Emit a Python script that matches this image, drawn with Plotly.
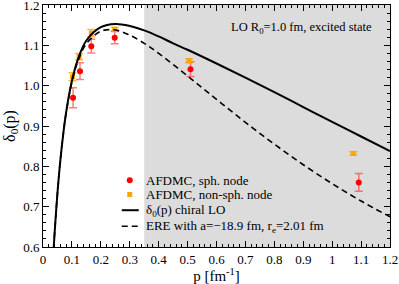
import plotly.graph_objects as go

# AFDMC, spherical node
p_sph = [0.104, 0.128, 0.167, 0.248, 0.510, 1.092]
d_sph = [0.970, 1.036, 1.098, 1.119, 1.041, 0.760]
e_sph = [0.025, 0.021, 0.017, 0.015, 0.018, 0.022]

# AFDMC, non-spherical node
p_non = [0.102, 0.125, 0.167, 0.248, 0.505, 1.073]
d_non = [1.022, 1.072, 1.130, 1.140, 1.062, 0.832]
e_non = [0.010, 0.008, 0.009, 0.004, 0.005, 0.004]

p_lo = [0.037, 0.04, 0.05, 0.06, 0.07, 0.08, 0.10, 0.12, 0.15, 0.20, 0.25, 0.30,
        0.35, 0.40, 0.45, 0.50, 0.60, 0.70, 0.80, 0.90, 1.00, 1.10, 1.20]
d_lo = [0.598, 0.633, 0.734, 0.815, 0.880, 0.934, 1.012, 1.064, 1.112, 1.145, 1.153, 1.148,
        1.137, 1.122, 1.105, 1.089, 1.055, 1.020, 0.984, 0.947, 0.910, 0.874, 0.838]

p_ere = [0.037, 0.04, 0.05, 0.06, 0.07, 0.08, 0.10, 0.12, 0.15, 0.20, 0.25, 0.30,
         0.35, 0.40, 0.50, 0.60, 0.70, 0.80, 0.90, 1.00, 1.10, 1.20]
d_ere = [0.598, 0.633, 0.734, 0.815, 0.880, 0.933, 1.009, 1.059, 1.104, 1.135, 1.138, 1.125,
         1.105, 1.080, 1.024, 0.966, 0.909, 0.855, 0.804, 0.757, 0.714, 0.675]

legend_labels = ["AFDMC, sph. node", "AFDMC, non-sph. node",
                 "δ<sub>0</sub>(p) chiral LO", "ERE with a=−18.9 fm, r<sub>e</sub>=2.01 fm"]

shade_range = [0.35, 1.2]
x_range = [0, 1.2]
y_range = [0.6, 1.2]

FONT = "Times New Roman, Liberation Serif, DejaVu Serif, serif"
RED = "#ff0000"
ORANGE = "#ffa500"

fig = go.Figure()

fig.add_trace(go.Scatter(
    x=p_sph, y=d_sph, mode="markers", name=legend_labels[0],
    marker=dict(color=RED, size=6, symbol="circle"),
    error_y=dict(type="data", array=e_sph, color="rgba(255,40,40,0.6)", width=4, thickness=1.5),
))
fig.add_trace(go.Scatter(
    x=p_non, y=d_non, mode="markers", name=legend_labels[1],
    marker=dict(color=ORANGE, size=5, symbol="square"),
    error_y=dict(type="data", array=e_non, color="rgba(255,165,0,0.8)", width=4, thickness=1.5),
))
fig.add_trace(go.Scatter(
    x=p_lo, y=d_lo, mode="lines", name=legend_labels[2],
    line=dict(color="black", width=2, shape="spline"),
))
fig.add_trace(go.Scatter(
    x=p_ere, y=d_ere, mode="lines", name=legend_labels[3],
    line=dict(color="black", width=1.6, dash="6px,4px", shape="spline"),
))

fig.add_shape(type="rect", xref="x", yref="paper", x0=shade_range[0], x1=shade_range[1],
              y0=0, y1=1, fillcolor="#dcdcdc", line=dict(width=0), layer="below")

fig.add_annotation(text="LO R<sub>0</sub>=1.0 fm, excited state", xref="paper", yref="paper",
                   x=0.955, y=0.905, xanchor="right", yanchor="middle", showarrow=False,
                   font=dict(family=FONT, size=12.5, color="black"))

# hand-placed legend (matches compact spacing of the reference)
leg_sym_x = 0.25
leg_txt_x = 0.29
leg_rows = [0.276, 0.217, 0.152, 0.086]
for lab, yy in zip(legend_labels, leg_rows):
    fig.add_annotation(text=lab, xref="paper", yref="paper", x=leg_txt_x, y=yy,
                       xanchor="left", yanchor="middle", showarrow=False,
                       font=dict(family=FONT, size=13, color="black"))
fig.add_shape(type="circle", xref="paper", yref="paper", xsizemode="pixel", ysizemode="pixel",
              xanchor=leg_sym_x, yanchor=leg_rows[0], x0=-3, x1=3, y0=-3, y1=3,
              fillcolor=RED, line=dict(width=0))
fig.add_shape(type="rect", xref="paper", yref="paper", xsizemode="pixel", ysizemode="pixel",
              xanchor=leg_sym_x, yanchor=leg_rows[1], x0=-2.5, x1=2.5, y0=-2.5, y1=2.5,
              fillcolor=ORANGE, line=dict(width=0))
fig.add_shape(type="line", xref="paper", yref="paper", xsizemode="pixel",
              xanchor=leg_sym_x, x0=-8, x1=9, y0=leg_rows[2], y1=leg_rows[2],
              line=dict(color="black", width=2))
fig.add_shape(type="line", xref="paper", yref="paper", xsizemode="pixel",
              xanchor=leg_sym_x, x0=-8, x1=9, y0=leg_rows[3], y1=leg_rows[3],
              line=dict(color="black", width=1.6, dash="6px,4px"))

axis_common = dict(
    showgrid=False, zeroline=False, showline=True, linecolor="black", linewidth=1,
    mirror="allticks", ticks="inside", ticklen=6, tickcolor="black",
    tickfont=dict(family=FONT, size=13, color="black"), ticklabeloverflow="allow",
)

fig.update_xaxes(range=x_range, dtick=0.1, tick0=0,
                 minor=dict(dtick=0.02, ticks="inside", ticklen=3, tickcolor="black"),
                 title=dict(text="p [fm<sup>-1</sup>]", font=dict(family=FONT, size=15, color="black"), standoff=4),
                 **axis_common)
fig.update_yaxes(range=y_range, dtick=0.1, tick0=0.6, tickformat=".1f",
                 minor=dict(dtick=0.02, ticks="inside", ticklen=3, tickcolor="black"),
                 title=dict(text="δ<sub>0</sub>(p)", font=dict(family=FONT, size=16, color="black"), standoff=3),
                 **axis_common)

fig.update_layout(
    width=399, height=284,
    margin=dict(l=43, r=9, t=5, b=37, autoexpand=False),
    plot_bgcolor="white", paper_bgcolor="white",
    font=dict(family=FONT, size=12, color="black"),
    showlegend=False,
)

fig.write_html("out.html", config={"displayModeBar": False},
               post_script="document.body.style.margin='0';document.body.style.padding='0';")
